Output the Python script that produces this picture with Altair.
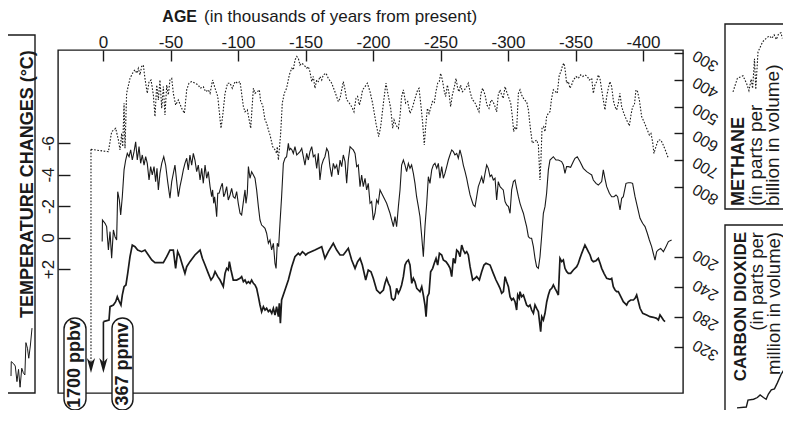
import altair as alt
import pandas as pd

# ---------------- data (age in ky before present) -------------
CH4 = [(-8.9,660),(4.0,669),(6.4,594),(9.4,581),(11.4,625),(12.6,662),(13.8,600),(14.6,650),(15.6,487),(16.3,656),(17.5,450),(20.0,394),(22.5,369),(23.7,362),(25.0,375),(26.2,356),(27.4,381),(28.6,350),(29.9,344),(30.6,375),(31.6,412),(32.8,450),(34.1,406),(35.6,400),(37.3,456),(38.5,537),(39.8,419),(41.0,475),(42.2,400),(43.5,506),(44.7,425),(45.9,531),(47.2,419),(48.4,456),(49.6,400),(50.9,394),(52.1,450),(53.8,494),(55.8,475),(58.3,506),(60.3,525),(62.0,437),(63.7,412),(65.7,406),(68.1,412),(70.6,419),(71.9,431),(74.3,425),(76.0,444),(78.0,437),(79.3,450),(81.2,400),(83.0,431),(85.0,462),(87.4,581),(88.6,537),(90.4,450),(92.3,412),(94.1,412),(95.8,431),(97.8,406),(99.8,412),
       (101.5,406),(104.0,500),(105.2,519),(106.9,512),(109.4,581),(111.4,431),(112.6,450),(114.3,444),(115.8,437),(116.8,481),(118.3,494),(120.0,550),(121.2,562),(122.5,587),(123.7,606),(125.7,650),(127.4,662),(128.6,675),(129.1,650),(129.9,700),(130.6,662),(131.6,600),(132.8,487),(134.3,450),(136.0,431),(138.0,381),(139.8,356),(141.0,362),(142.2,325),(143.5,312),(144.7,319),(145.9,344),(147.2,337),(148.9,344),(150.9,356),(152.1,350),(153.3,369),(154.6,406),(155.8,387),(157.0,431),(158.3,400),(159.5,406),(160.7,387),(162.0,400),(163.2,381),(165.2,375),(166.9,394),(169.4,412),(171.8,444),(174.3,481),(175.6,469),(176.8,437),(178.0,406),(179.3,437),(180.5,475),(181.7,481),(184.2,500),(185.9,519),(187.4,469),(188.6,462),(189.9,494),(190.9,475),(192.3,437),(194.1,425),(195.8,412),(197.8,444),(199.7,487),(202.2,562),(204.2,612),(205.7,575),(207.7,487),(209.6,412),(211.4,462),(213.1,506),(214.6,581),(215.6,550),(217.0,569),
       (218.8,581),(220.0,537),(221.2,462),(222.5,437),(224.2,487),(225.7,481),(227.4,525),(229.1,506),(231.1,469),(233.1,437),(234.1,431),(235.6,500),(236.8,562),(238.0,644),(239.0,575),(240.3,506),(241.5,525),(243.0,500),(244.0,481),(245.4,487),(246.4,450),(247.9,412),(249.1,406),(250.1,375),(251.4,400),(252.6,437),(253.8,462),(255.1,419),(256.3,450),(257.5,500),(258.8,456),(260.3,425),(261.5,394),(262.7,431),(263.7,444),(264.9,419),(266.2,444),(267.7,437),(269.4,425),(270.6,412),(271.9,444),(273.6,475),(275.1,481),(276.8,500),(278.5,519),(280.0,450),(281.2,431),(283.0,456),(284.4,494),(285.9,506),(287.4,475),(288.9,481),(290.4,500),(291.6,519),(292.8,456),(294.1,437),(295.3,456),(296.5,469),(297.8,425),(299.0,444),(300.3,462),(302.0,487),(303.2,537),(304.2,594),(305.2,575),(306.4,587),(307.7,450),(308.9,437),(310.1,456),(312.1,475),(313.8,481),(315.1,512),(316.3,569),(318.0,637),(319.5,631),(321.2,625),(322.5,644),(323.7,775),(324.4,700),(325.2,581),(326.4,575),(327.4,594),(328.6,537),(329.9,525),(331.1,519),(332.3,469),(333.6,437),
       (336.5,450),(338.0,381),(339.2,369),(340.5,344),(341.5,337),(342.5,369),(343.4,412),(344.7,406),(345.9,431),(347.1,419),(348.4,400),(350.4,387),(352.1,394),(353.8,381),(355.3,387),(357.0,381),(358.8,387),(360.2,400),(362.0,394),(363.2,450),(364.4,419),(365.7,406),(366.9,381),(368.1,394),(369.4,437),(370.6,475),(371.8,512),(373.1,462),(374.3,431),(375.5,406),(376.8,425),(378.0,475),(379.2,500),(380.5,512),(381.7,487),(382.9,450),(384.2,500),(385.4,519),(386.7,537),(388.4,556),(389.9,572),(391.1,531),(392.3,500),(393.6,494),(394.8,437),(396.0,444),(397.3,475),(399.0,537),(400.7,556),(402.7,581),(404.7,606),(405.9,600),(407.1,631),(408.1,675),(409.6,650),(411.3,625),(413.3,625),(415.0,644),(417.0,669),(418.8,694)]

TEMP = [(-0.6,0.26),(-0.4,-1.11),(1.5,-0.9),(2.7,-0.69),(4.0,0.79),(5.2,-0.37),(6.4,1.32),(7.7,-0.48),(8.9,-0.05),(10.1,0.16),(10.9,-2.91),(12.1,-2.38),(13.1,-1.43),(14.3,-2.59),(15.6,-4.29),(16.8,-4.92),(18.0,-5.34),(19.3,-5.13),(20.5,-5.56),(21.7,-4.92),(23.0,-5.45),(24.2,-6.08),(25.4,-4.92),(26.7,-5.77),(27.9,-4.71),(29.1,-5.24),(30.4,-4.6),(31.6,-5.13),(32.8,-4.71),(34.1,-3.65),(35.3,-4.5),(36.5,-3.97),(37.8,-4.5),(39.0,-3.55),(40.0,-4.39),(41.0,-3.02),(42.2,-4.07),(43.5,-4.71),(45.0,-5.13),(46.4,-4.6),(47.9,-3.55),(49.6,-2.49),(50.9,-3.55),(52.1,-4.07),(53.3,-4.6),(54.6,-3.55),(55.8,-2.59),(57.0,-3.23),(58.3,-3.76),(59.5,-4.29),(60.7,-4.71),(62.0,-5.03),(63.2,-4.29),(64.4,-5.24),(65.7,-4.6),(66.9,-5.34),(68.1,-4.92),(69.4,-4.18),(70.6,-4.6),(71.9,-3.65),(73.1,-4.39),(74.3,-3.44),(75.6,-4.6),(76.8,-3.76),(78.0,-4.18),(79.3,-3.23),(80.5,-2.59),(81.2,-3.02),(82.0,-2.17),(82.7,-2.59),(83.5,-1.96),(84.2,-1.32),(85.0,-2.81),(86.0,-2.81),(87.4,-3.23),(88.4,-3.44),(89.4,-2.59),(90.4,-2.81),(91.6,-3.23),(92.8,-2.38),(94.1,-2.7),(95.3,-3.12),(96.5,-2.59),(97.8,-2.49),(99.0,-2.91),(100.2,-2.17),
        (101.5,-1.54),(102.7,-1.43),(104.0,-2.28),(105.2,-3.02),(105.9,-2.17),(106.9,-2.81),(107.7,-4.5),(108.9,-3.76),(110.1,-4.18),(111.4,-3.97),(112.6,-3.76),(113.8,-3.02),(115.1,-1.96),(116.3,-1.11),(117.5,-0.79),(118.8,-0.69),(120.0,-0.58),(121.2,-0.27),(122.5,0.37),(123.7,0.16),(124.9,0.79),(126.2,0.37),(127.4,1.64),(128.2,1.96),(129.1,0.37),(130.1,0.58),(131.1,-0.9),(132.3,-2.59),(133.6,-4.71),(134.8,-5.03),(136.0,-5.13),(137.3,-5.98),(138.0,-5.56),(139.0,-5.66),(140.0,-5.56),(141.0,-5.34),(142.2,-5.77),(143.5,-5.24),(144.7,-5.34),(145.9,-5.45),(147.2,-5.66),(148.4,-5.13),(149.6,-4.6),(150.9,-5.34),(152.1,-4.92),(153.3,-5.45),(154.6,-5.77),(155.8,-5.13),(157.0,-5.24),(158.3,-4.39),(159.5,-5.34),(160.7,-3.65),(162.0,-4.6),(163.2,-4.92),(164.4,-5.13),(165.7,-5.66),(166.9,-5.45),(168.1,-4.5),(169.4,-3.86),(170.6,-4.71),(171.8,-4.39),(173.1,-4.6),(174.3,-3.97),(175.6,-4.92),(176.8,-4.5),(178.0,-5.24),(179.3,-4.82),(180.5,-3.44),(181.7,-4.92),(183.0,-5.77),(184.2,-5.66),(185.4,-5.56),(186.7,-5.34),(187.9,-4.5),(189.1,-4.6),(190.4,-3.23),(191.6,-3.97),(192.8,-3.23),(194.1,-3.76),(195.3,-3.02),(196.5,-3.44),(197.8,-2.17),(199.0,-2.28),(200.2,-1.11),(201.5,-1.54),(202.7,-2.38),(203.9,-2.17),(205.2,-3.02),(206.4,-2.81),(207.7,-2.59),(210.1,-2.17),(212.6,-1.54),(215.1,-0.69),(216.3,-1.32),(217.5,-0.69),(218.8,-1.96),(220.0,-3.02),
        (221.2,-4.6),(222.5,-4.92),(223.7,-4.6),(224.9,-4.18),(226.2,-4.71),(227.4,-4.39),(228.6,-4.6),(229.9,-4.07),(231.1,-3.44),(232.3,-2.59),(233.6,-1.96),(234.8,-1.32),(236.1,-0.05),(237.3,1.22),(238.5,-0.69),(239.8,-2.17),(241.0,-3.86),(242.2,-3.44),(243.5,-4.29),(244.7,-4.6),(245.9,-4.71),(247.2,-4.39),(248.4,-4.71),(249.6,-3.76),(250.9,-4.5),(252.1,-3.76),(253.3,-4.07),(254.6,-4.5),(255.8,-4.92),(257.0,-5.24),(258.3,-5.56),(259.5,-5.45),(260.7,-5.24),(262.0,-5.34),(263.2,-5.03),(264.4,-5.56),(265.7,-5.13),(266.9,-4.6),(268.2,-4.18),(269.4,-3.76),(270.6,-3.23),(271.9,-2.7),(273.1,-2.38),(274.3,-2.07),(275.6,-1.96),(276.8,-2.59),(278.0,-3.23),(279.3,-3.55),(280.5,-3.86),(281.7,-3.44),(283.0,-4.07),(284.2,-4.6),(285.4,-4.39),(286.7,-3.86),(287.9,-3.97),(289.1,-3.65),(290.4,-3.76),(291.6,-2.38),(292.8,-3.55),(294.1,-3.23),(295.3,-3.12),(296.5,-3.02),(297.8,-2.28),(299.0,-2.07),(300.3,-1.96),(301.5,-1.54),(302.7,-3.02),(304.0,-3.55),(305.2,-3.65),(306.4,-3.12),(307.7,-2.59),(308.9,-2.17),(310.1,-1.85),(311.4,-1.54),(312.6,-1.11),(313.8,-0.69),(315.1,-0.05),(316.3,0.05),(317.5,0.05),(318.8,0.58),(320.0,1.32),(321.2,1.85),(322.5,1.96),(323.7,1.22),(324.9,-0.05),(326.2,-1.54),(327.4,-1.96),(328.6,-2.81),(329.9,-4.29),(331.1,-4.92),
        (333.6,-5.13),(335.5,-4.92),(337.3,-4.92),(339.7,-4.82),(341.0,-4.6),(342.2,-4.07),(343.4,-4.5),(344.7,-4.5),(346.4,-4.46),(348.4,-4.82),(349.6,-5.03),(351.3,-5.13),(353.3,-4.82),(355.8,-4.39),(358.3,-4.18),(360.2,-4.07),(362.0,-3.97),(363.2,-3.65),(365.2,-3.44),(366.9,-3.33),(369.4,-3.55),(370.6,-4.29),(371.8,-3.76),(373.1,-3.23),(375.1,-2.81),(376.8,-2.59),(378.5,-2.59),(380.0,-2.7),(381.2,-2.59),(383.0,-1.75),(384.2,-2.49),(385.4,-2.59),(387.4,-3.44),(389.1,-3.48),(390.9,-3.48),(392.3,-3.44),(394.1,-2.59),(395.8,-1.96),(397.8,-1.22),(399.7,-0.9),(401.5,-0.69),(403.2,-0.27),(404.7,0.16),(406.4,0.58),(407.6,1.0),(408.9,1.43),(410.1,0.9),(411.3,0.79),(413.1,0.69),(415.1,0.9),(417.0,0.58),(418.8,0.26),(421.2,0.16)]

CO2 = [(0.3,286.6),(4.45,284.4),(5.2,266.6),(7.7,264.4),(9.4,260.0),(10.6,253.3),(12.1,260.0),(13.3,264.4),(14.3,251.1),(15.6,240.0),(17.0,237.7),(18.3,222.2),(20.0,200.0),(21.7,184.4),(23.7,186.6),(25.7,191.1),(28.6,193.3),(31.1,191.1),(33.6,197.7),(36.1,204.4),(38.5,208.0),(44.7,208.0),(47.2,200.0),(49.6,191.1),(52.1,191.1),(53.8,215.5),(55.3,193.3),(57.0,200.0),(58.8,211.1),(60.7,222.2),(62.0,213.3),(64.4,206.6),(68.1,197.7),(71.9,191.1),(73.6,202.2),(75.6,211.1),(78.0,222.2),(80.0,231.1),(81.7,226.6),(83.0,220.0),(85.0,226.6),(86.7,231.1),(89.1,240.0),(90.4,222.2),(91.6,215.5),(92.8,217.7),(93.6,206.6),(94.8,217.7),(96.5,231.1),(99.0,231.1),(101.5,228.8),(102.7,226.6),(104.0,233.3),(105.2,231.1),(106.4,235.5),(107.7,233.3),(108.9,235.5),(110.1,231.1),(111.4,235.5),(112.6,237.7),(113.8,242.2),(115.1,253.3),(116.3,264.4),(117.5,273.3),(118.8,266.6),(120.0,271.1),(121.2,268.8),(122.5,273.3),(123.7,271.1),(125.0,275.5),(126.2,268.8),(127.4,277.7),(128.6,266.6),(129.9,280.0),(130.6,262.2),(131.4,288.8),(132.3,257.7),(134.8,244.4),(137.3,231.1),(139.8,213.3),(142.2,200.0),(144.7,195.5),(145.9,197.7),(147.7,193.3),(149.1,195.5),(150.1,197.7),(151.6,195.5),(157.0,191.1),(162.0,186.6),(164.4,202.2),(166.9,193.3),(170.6,182.2),(173.1,191.1),(175.6,197.7),(178.0,197.7),(179.8,193.3),(181.7,188.8),(184.2,204.4),(186.7,215.5),(188.6,206.6),(190.4,202.2),(192.1,211.1),(194.6,231.1),(196.5,217.7),(198.5,220.0),(200.2,228.8),(202.7,244.4),(205.2,248.8),(207.7,244.4),
       (208.9,235.5),(210.1,228.8),(211.4,235.5),(212.6,240.0),(213.8,255.5),(215.1,257.7),(216.3,255.5),(217.5,242.2),(218.8,248.8),(220.0,244.4),(221.2,237.7),(222.5,226.6),(223.7,211.1),(224.9,206.6),(226.2,204.4),(227.4,211.1),(228.7,235.5),(229.9,228.8),(231.1,233.3),(232.4,242.2),(233.6,244.4),(234.8,246.6),(236.1,240.0),(237.3,251.1),(238.5,264.4),(239.3,280.0),(240.3,253.3),(241.5,248.8),(242.7,220.0),(244.2,215.5),(245.4,208.8),(246.7,202.2),(247.9,211.1),(249.2,195.5),(250.9,197.7),(252.1,204.4),(254.1,206.6),(255.8,211.1),(257.1,215.5),(258.3,226.6),(259.5,202.2),(260.8,208.8),(262.0,191.1),(263.2,193.3),(264.5,200.0),(265.7,184.4),(266.9,191.1),(268.2,195.5),(269.4,193.3),(270.6,197.7),(271.9,213.3),(273.8,231.1),(275.6,228.8),(276.8,226.6),(278.8,231.1),(280.5,220.0),(282.2,211.1),(283.7,208.8),(286.7,211.1),(289.1,222.2),(291.1,231.1),(292.9,237.7),(294.1,242.2),(295.3,248.8),(296.6,246.6),(297.8,226.6),(299.0,233.3),(300.3,240.0),(301.5,253.3),(302.7,257.7),(304.0,255.5),(305.2,260.0),(306.4,271.1),(307.2,251.1),(308.4,255.5),(308.9,246.6),(310.1,253.3),(311.4,251.1),(312.6,257.7),(313.8,264.4),(315.1,266.6),(316.3,264.4),(317.5,271.1),(318.8,275.5),(320.0,264.4),(321.2,268.8),(322.5,273.3),(323.2,284.4),(324.2,300.0),(325.0,280.0),(326.2,284.4),(327.4,275.5),(328.7,260.0),(329.9,251.1),(331.1,244.4),(332.4,242.2),(333.6,237.7),(334.8,242.2),(336.1,246.6),(337.3,251.1),(338.5,202.2),(339.8,206.6),(341.0,204.4),(342.2,215.5),(343.5,220.0),(344.7,222.2),(346.4,222.2),(348.4,217.7),(350.9,213.3),(352.1,208.8),(353.3,202.2),(354.6,195.5),(357.0,184.4),(358.3,188.8),(359.5,193.3),(360.8,197.7),(362.0,204.4),(363.2,206.6),(365.2,205.3),(366.9,202.2),(368.2,208.8),(369.4,215.5),(371.1,222.2),(373.1,228.8),(375.6,230.2),(376.8,228.8),(378.0,240.0),(379.3,244.4),(380.5,246.6),(381.7,246.6),(383.0,251.1),(384.2,255.5),(385.4,260.0),(387.9,264.4),(389.1,260.0),(390.9,257.7),(392.9,257.7),(394.1,255.5),(395.3,251.1),(396.6,260.0),(397.8,268.8),(399.8,275.5),(402.7,277.7),(405.2,280.0),(407.7,280.8),(410.1,282.2),(411.4,284.4),(412.6,277.7),(413.8,280.8),(415.1,284.4),(416.3,286.6)]

AGE_TICKS = [0, 50, 100, 150, 200, 250, 300, 350, 400]
TEMP_TICKS = [-6, -4, -2, 0, 2]
CH4_TICKS = [300, 400, 500, 600, 700, 800]
CO2_TICKS = [200, 240, 280, 320]

FONT = "Liberation Sans"
INK = "#1a1a1a"


def frame(pairs):
    return pd.DataFrame({"age": [p[0] for p in pairs],
                         "v": [p[1] for p in pairs],
                         "i": list(range(len(pairs)))})


ch4_df, temp_df, co2_df = frame(CH4), frame(TEMP), frame(CO2)
one = pd.DataFrame({"k": [0]})


def sc(domain, rng):
    return alt.Scale(domain=domain, range=rng, zero=False, nice=False)


x_sc = sc([0, 400], [45, 585])
t_sc = sc([-6, 2], [93, 219])
m_sc = sc([300, 800], [3.3, 136.7])
c_sc = sc([200, 320], [206.7, 296.7])

AX = dict(domain=False, grid=False, tickColor=INK, tickWidth=1.4, labelColor=INK,
          labelFont=FONT, labelFlush=False, labelOverlap=False, title=None)

x_axis = alt.Axis(orient="top", values=AGE_TICKS,
                  labelExpr="datum.value == 0 ? '0' : '-' + datum.value",
                  tickSize=11, offset=-11, labelPadding=3, labelFontSize=17,
                  labelBaseline="alphabetic", **AX)
t_axis = alt.Axis(orient="left", values=TEMP_TICKS,
                  labelExpr="datum.value > 0 ? '+' + datum.value : '' + datum.value",
                  tickSize=12, offset=-12, labelPadding=5, labelFontSize=17,
                  labelAngle=270, labelAlign="center", labelBaseline="alphabetic", **AX)
m_axis = alt.Axis(orient="right", values=CH4_TICKS, format="d", tickSize=9, offset=-9,
                  labelPadding=22, labelOffset=7, labelFontSize=16, labelAngle=210,
                  labelAlign="center", labelBaseline="middle", **AX)
c_axis = alt.Axis(orient="right", values=CO2_TICKS, format="d", tickSize=9, offset=-9,
                  labelPadding=22, labelOffset=3, labelFontSize=16, labelAngle=210,
                  labelAlign="center", labelBaseline="middle", **AX)

DOT = [1.6, 1.6]

ch4_line = alt.Chart(ch4_df).mark_line(color=INK, strokeWidth=1.1, strokeDash=DOT).encode(
    x=alt.X("age:Q", scale=x_sc, axis=x_axis),
    y=alt.Y("v:Q", scale=m_sc, axis=m_axis), order="i:Q")
temp_line = alt.Chart(temp_df).mark_line(color=INK, strokeWidth=1.1).encode(
    x=alt.X("age:Q", scale=x_sc, axis=None),
    y=alt.Y("v:Q", scale=t_sc, axis=t_axis), order="i:Q")
co2_line = alt.Chart(co2_df).mark_line(color=INK, strokeWidth=1.7).encode(
    x=alt.X("age:Q", scale=x_sc, axis=None),
    y=alt.Y("v:Q", scale=c_sc, axis=c_axis), order="i:Q")

# arrows from the first (present-day) point of each gas record
HEAD = "M0,1L-0.55,-1L0,-0.45L0.55,-1Z"
ch4_stem = alt.Chart(ch4_df).transform_filter("datum.i == 0").mark_rule(
    color=INK, strokeWidth=1.1, strokeDash=DOT).encode(
    x=alt.X("age:Q", scale=x_sc, axis=None),
    y=alt.Y("v:Q", scale=m_sc, axis=None), y2=alt.value(312))
co2_stem = alt.Chart(co2_df).transform_filter("datum.i == 0").mark_rule(
    color=INK, strokeWidth=1.6).encode(
    x=alt.X("age:Q", scale=x_sc, axis=None),
    y=alt.Y("v:Q", scale=c_sc, axis=None), y2=alt.value(312))
ch4_head = alt.Chart(ch4_df).transform_filter("datum.i == 0").mark_point(
    shape=HEAD, filled=True, color=INK, size=225, opacity=1).encode(
    x=alt.X("age:Q", scale=x_sc, axis=None), y=alt.value(315.5))
co2_head = alt.Chart(co2_df).transform_filter("datum.i == 0").mark_point(
    shape=HEAD, filled=True, color=INK, size=225, opacity=1).encode(
    x=alt.X("age:Q", scale=x_sc, axis=None), y=alt.value(315.5))


def box(x, x2, y, y2, r=0):
    return alt.Chart(one).mark_rect(fill="white", stroke=INK, strokeWidth=1.4,
                                    cornerRadius=r).encode(
        x=alt.value(x), x2=alt.value(x2), y=alt.value(y), y2=alt.value(y2))


def label(txt, x, y, size, bold=False, angle=0, align="center", baseline="middle"):
    return alt.Chart(one).mark_text(text=txt, font=FONT, fontSize=size,
                                    fontWeight="bold" if bold else "normal",
                                    angle=angle, align=align, baseline=baseline,
                                    color=INK).encode(x=alt.value(x), y=alt.value(y))


# legend glyphs: short pieces of the records drawn small inside the legend boxes
temp_glyph = alt.Chart(temp_df).transform_filter("datum.age <= 15.7").mark_line(
    color=INK, strokeWidth=1).encode(
    x=alt.X("age:Q", scale=sc([-0.6, 15.6], [-47, -26]), axis=None),
    y=alt.Y("v:Q", scale=sc([-4.3, 1.3], [278, 337]), axis=None), order="i:Q")
ch4_glyph = alt.Chart(ch4_df).transform_filter("datum.age >= 4 && datum.age <= 31").mark_line(
    color=INK, strokeWidth=1.1, strokeDash=DOT).encode(
    x=alt.X("age:Q", scale=sc([4, 31], [675, 725]), axis=None),
    y=alt.Y("v:Q", scale=sc([340, 670], [-18, 42]), axis=None), order="i:Q")
co2_glyph = alt.Chart(co2_df).transform_filter("datum.age <= 22").mark_line(
    color=INK, strokeWidth=1.4).encode(
    x=alt.X("age:Q", scale=sc([0.3, 21.7], [679, 727]), axis=None),
    y=alt.Y("v:Q", scale=sc([184, 287], [318, 358]), axis=None), order="i:Q")

layers = [
    ch4_line, temp_line, co2_line,
    ch4_stem, co2_stem, ch4_head, co2_head,
    box(6, 28, 268, 360, 11), box(54, 75, 268, 360, 11),
    label("1700 ppbv", 17, 314, 18, True, 270),
    label("367 ppmv", 64.5, 314, 18, True, 270),
    label("AGE", 139, -28.5, 16, True, 0, "right", "alphabetic"),
    label("(in thousands of years from present)", 146, -28.5, 17, False, 0, "left", "alphabetic"),
    box(-51, -23, -15, 343),
    box(667, 800, -26, 159),
    box(667, 800, 175, 400),
    label("TEMPERATURE CHANGES (°C)", -25, 268, 18, True, 270, "left", "alphabetic"),
    label("METHANE", 686, 156, 18, True, 270, "left", "alphabetic"),
    label("(in parts per", 704, 156, 19, False, 270, "left", "alphabetic"),
    label("billion in volume)", 721, 156, 19, False, 270, "left", "alphabetic"),
    label("CARBON DIOXIDE", 688, 182, 17, True, 270, "right", "alphabetic"),
    label("(in parts per", 705, 182, 18.5, False, 270, "right", "alphabetic"),
    label("million in volume)", 721.5, 182, 18.5, False, 270, "right", "alphabetic"),
    temp_glyph, ch4_glyph, co2_glyph,
]

chart = alt.layer(*layers).resolve_scale(x="independent", y="independent").properties(
    width=625, height=343,
    autosize=alt.AutoSizeParams(type="none"),
    padding={"left": 50, "top": 42, "right": 100, "bottom": 17},
).configure(font=FONT, background="white",
            view=alt.ViewConfig(stroke=INK, strokeWidth=1.4))

chart.save("out.html", embed_options={"renderer": "svg", "actions": False})
